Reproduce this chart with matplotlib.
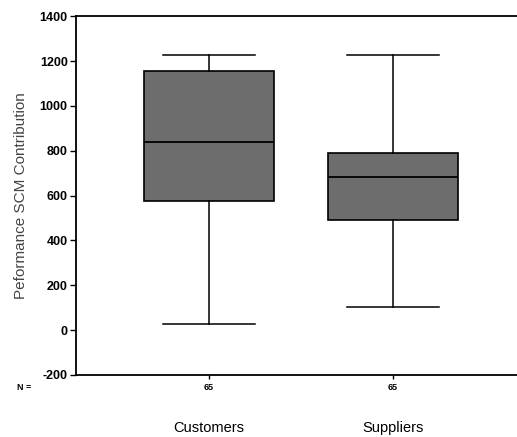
import matplotlib
matplotlib.use("Agg")
import matplotlib.pyplot as plt

plt.rcParams['font.family'] = ['Liberation Sans', 'DejaVu Sans']
plt.rcParams['axes.unicode_minus'] = False

# five-number summaries per group
groups = ['Customers', 'Suppliers']
whisker_low = [26, 105]
q1 = [575, 491]
median = [841, 682]
q3 = [1155, 791]
whisker_high = [1225, 1229]
n_cases = [65, 65]

stats = []
for i, g in enumerate(groups):
    stats.append({'label': g, 'whislo': whisker_low[i], 'q1': q1[i], 'med': median[i],
                  'q3': q3[i], 'whishi': whisker_high[i], 'fliers': []})

fig = plt.figure(figsize=(5.17, 4.37), dpi=100)
ax = fig.add_axes([0.147, 0.142, 0.853, 0.821])

positions = [1, 2]
ax.bxp(stats, positions=positions, widths=0.71, patch_artist=True, showfliers=False,
       capwidths=0.5,
       boxprops=dict(facecolor='#6d6d6d', edgecolor='black', linewidth=1.2),
       medianprops=dict(color='black', linewidth=1.3),
       whiskerprops=dict(color='black', linewidth=1.1),
       capprops=dict(color='black', linewidth=1.1))

ax.set_xlim(0.277, 2.674)
ax.set_ylim(-200, 1400)
ax.set_yticks(range(-200, 1401, 200))
ax.tick_params(axis='y', labelsize=9, length=4, width=1, direction='out', pad=2)
for lbl in ax.get_yticklabels():
    lbl.set_fontweight('bold')
ax.set_xticks(positions)
ax.set_xticklabels([str(n) for n in n_cases], fontsize=6.5, fontweight='bold')
ax.tick_params(axis='x', length=3, width=1, pad=3)

for side in ['left', 'bottom', 'top']:
    ax.spines[side].set_linewidth(1.3)
ax.spines['right'].set_visible(False)

ax.set_ylabel('Peformance SCM Contribution', fontsize=11, color='#444444', labelpad=8)

# group names and N marker below the axis
ax.text(0.047, 0.113, 'N =', transform=fig.transFigure, fontsize=6.5, fontweight='bold',
        ha='center', va='center')
for pos, g in zip(positions, groups):
    ax.annotate(g, xy=(pos, 0), xycoords=('data', 'axes fraction'), xytext=(0, -38),
                textcoords='offset points', ha='center', va='center', fontsize=10.5)

fig.savefig('out.png', dpi=100)
